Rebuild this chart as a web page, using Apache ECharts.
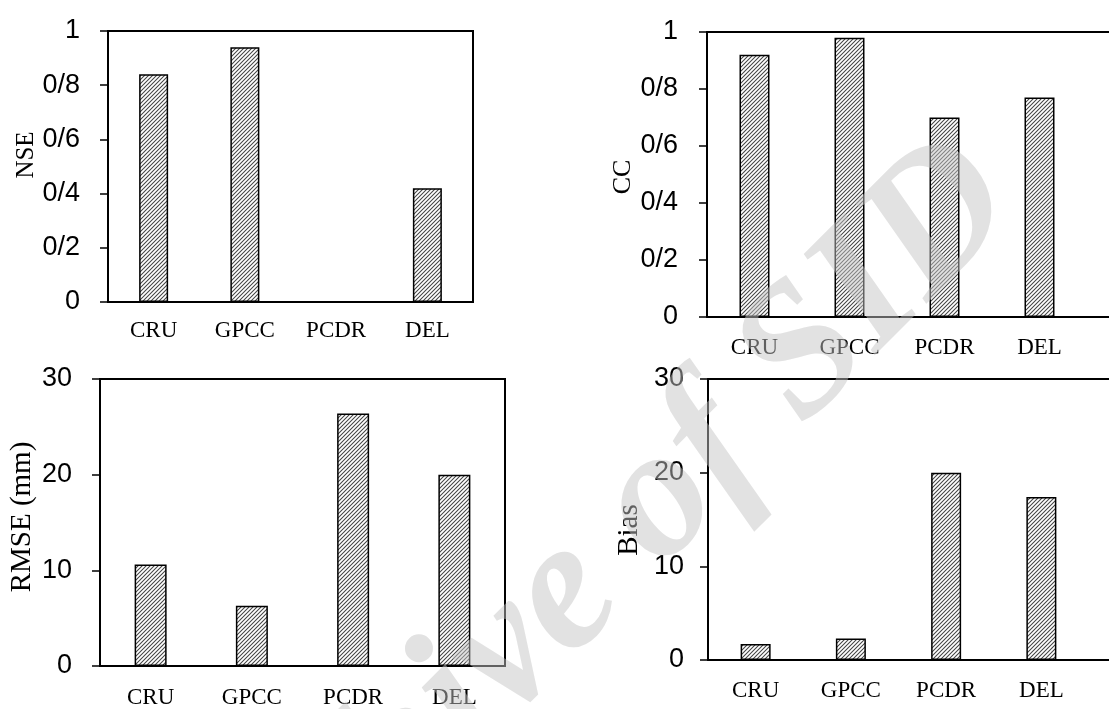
<!DOCTYPE html>
<html>
<head>
<meta charset="utf-8">
<script src="https://cdn.jsdelivr.net/npm/echarts@6/dist/echarts.min.js"></script>
<style>
html,body{margin:0;padding:0;background:#fff;}
#chart{width:1109px;height:709px;}
</style>
</head>
<body>
<div id="chart"></div>
<script>
const categories = ['CRU', 'GPCC', 'PCDR', 'DEL'];
const nseValues = [0.84, 0.94, null, 0.42];
const ccValues = [0.92, 0.98, 0.70, 0.77];
const rmseValues = [10.6, 6.3, 26.4, 20.0];
const biasValues = [1.7, 2.3, 20.0, 17.4];
const fracTickLabels = ['0', '0/2', '0/4', '0/6', '0/8', '1'];
const mmTickLabels = ['0', '10', '20', '30'];
const axisNames = ['NSE', 'CC', 'RMSE (mm)', 'Bias'];
const watermarkText = 'Archive of SID';

function hatch() {
  const n = 4;
  const c = document.createElement('canvas');
  c.width = n; c.height = n;
  const g = c.getContext('2d');
  g.fillStyle = '#ffffff';
  g.fillRect(0, 0, n, n);
  g.strokeStyle = '#444444';
  g.lineWidth = 1.05;
  g.beginPath();
  g.moveTo(-1, n + 1); g.lineTo(n + 1, -1);
  g.moveTo(-1, 1); g.lineTo(1, -1);
  g.moveTo(n - 1, n + 1); g.lineTo(n + 1, n - 1);
  g.stroke();
  return c;
}
const pattern = { image: hatch(), repeat: 'repeat' };

function boxed(r) { return Object.assign(r, { show: true, borderColor: '#000', borderWidth: 2, backgroundColor: 'transparent', outerBoundsMode: 'none' }); }
function plain(r) { return Object.assign(r, { outerBoundsMode: 'none' }); }
const grids = [
  boxed({ left: 108, top: 31, width: 365, height: 271 }),
  plain({ left: 707, top: 32, width: 380, height: 285 }),
  boxed({ left: 100, top: 379, width: 405, height: 287 }),
  plain({ left: 708, top: 379, width: 381, height: 281 }),
  plain({ left: 707, top: 32, width: 404, height: 285 }),
  plain({ left: 708, top: 379, width: 403, height: 281 })
];

function frameAxis(gi, pos) {
  return {
    gridIndex: gi, type: 'value', position: pos,
    axisLine: { show: true, onZero: false, lineStyle: { color: '#000', width: 2 } },
    axisTick: { show: false }, axisLabel: { show: false }, splitLine: { show: false }
  };
}

const labelMargins = [17, 19, 20, 19];
const xAxes = [0, 1, 2, 3].map(i => ({
  gridIndex: i, type: 'category', data: categories, boundaryGap: true,
  axisLine: { show: false }, axisTick: { show: false },
  axisLabel: { margin: labelMargins[i], color: '#000', fontFamily: '"Liberation Serif", "Times New Roman", serif', fontSize: 23 }
}));
xAxes.push(frameAxis(4, 'bottom'), frameAxis(4, 'top'), frameAxis(5, 'bottom'), frameAxis(5, 'top'));

const yMax = [1, 1, 30, 30];
const yInt = [0.2, 0.2, 10, 10];
const tickLbls = [fracTickLabels, fracTickLabels, mmTickLabels, mmTickLabels];
const tickMargins = [28, 29, 28, 24];
const nameGaps = [60, 56, 63, 64];
const nameSizes = [25, 26, 29, 29];
const namePads = [[0, 0, 0, 23], [0, 5, 0, 0], [0, 0, 0, 11], [0, 21, 0, 0]];
const yAxes = [0, 1, 2, 3].map(i => ({
  gridIndex: i, type: 'value', min: 0, max: yMax[i], interval: yInt[i],
  name: axisNames[i], nameLocation: 'middle', nameGap: nameGaps[i],
  nameTextStyle: { color: '#000', fontFamily: '"Liberation Serif", "Times New Roman", serif', fontSize: nameSizes[i], padding: namePads[i] },
  axisLine: { show: false },
  axisTick: { show: true, inside: false, length: 8, lineStyle: { color: '#000', width: 1.5 } },
  splitLine: { show: false },
  axisLabel: {
    margin: tickMargins[i], color: '#000', fontFamily: '"Liberation Sans", Arial, sans-serif', fontSize: 27,
    padding: [0, 0, 6, 0],
    formatter: (function (lbls) { return function (v, idx) { return lbls[idx]; }; })(tickLbls[i])
  }
}));
yAxes.push(frameAxis(4, 'left'), frameAxis(5, 'left'));

const dataSets = [nseValues, ccValues, rmseValues, biasValues];
const barWidths = [29, 30, 32, 30];
const series = [0, 1, 2, 3].map(i => ({
  type: 'bar', xAxisIndex: i, yAxisIndex: i, data: dataSets[i], barWidth: barWidths[i],
  itemStyle: { color: pattern, borderColor: '#000', borderWidth: 1.5 },
  silent: true
}));

const chart = echarts.init(document.getElementById('chart'));
chart.setOption({
  animation: false,
  backgroundColor: '#ffffff',
  grid: grids,
  xAxis: xAxes,
  yAxis: yAxes,
  series: series,
  graphic: [{
    type: 'text', x: 579, y: 583, rotation: Math.PI / 4, z: 100, silent: true,
    style: {
      text: watermarkText,
      font: 'italic bold 186px "Liberation Serif", "Times New Roman", serif',
      fill: 'rgba(196,196,196,0.49)',
      align: 'center', verticalAlign: 'middle',
      textAlign: 'center', textVerticalAlign: 'middle'
    }
  }]
});
</script>
</body>
</html>
